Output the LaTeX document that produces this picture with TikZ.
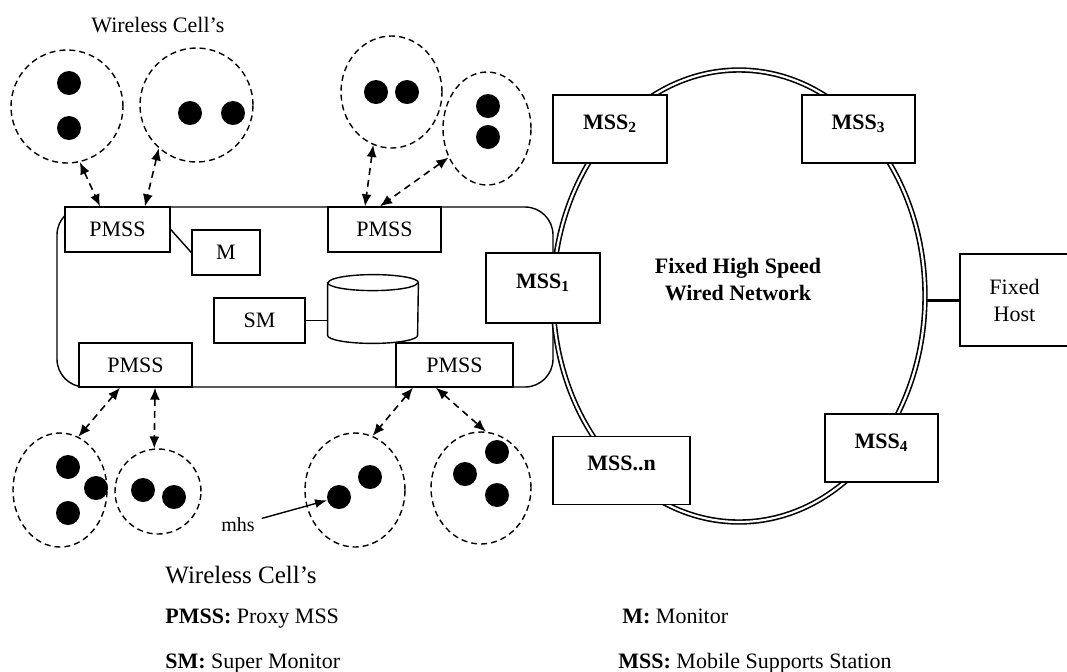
\documentclass[tikz,border=0pt]{standalone}
\usepackage{fontspec}
\setmainfont{Liberation Serif}
\usepackage{tikz}
\usetikzlibrary{shapes,arrows.meta,positioning,calc}

\begin{document}
\begin{tikzpicture}[
    x=0.5pt, y=-0.5pt,
    every node/.style={font=\fontsize{11}{13.5}\selectfont},
    pmss/.style={rectangle, draw, fill=white, line width=0.7pt, minimum height=22.5pt, inner sep=0pt},
    mss/.style={rectangle, draw, fill=white, line width=0.7pt, minimum height=34pt, inner sep=0pt, font=\fontsize{11}{13.5}\selectfont\bfseries, text height=8pt, text depth=8pt},
    cell/.style={ellipse, draw, dash pattern=on 3pt off 2pt, line width=0.7pt, inner sep=0pt},
    dot/.style={circle, fill, inner sep=0pt, minimum size=12pt},
    link/.style={<->, >={Latex[length=6pt,width=5pt]}, dash pattern=on 3.5pt off 2.5pt, line width=0.8pt},
    legend/.style={anchor=base west, inner sep=0pt}
]
    \useasboundingbox (0,0) rectangle (1067,671);

    % proxy domain
    \node[draw, line width=0.7pt, rounded corners=14pt, minimum width=248pt, minimum height=90pt, inner sep=0pt] (dom) at (305,297) {};

    % wired ring
    \node[ellipse, draw, double, double distance=1.1pt, line width=0.8pt, minimum width=186pt, minimum height=226pt, inner sep=0pt] (ring) at (739,296) {};
    \node[align=center, font=\fontsize{11}{13.5}\selectfont\bfseries] (net) at (738,280) {Fixed High Speed\\Wired Network};

    \node[pmss, minimum width=52.5pt] (p1) at (117.5,229.5) {PMSS};
    \node[pmss, minimum width=56.5pt] (p2) at (384.5,229.5) {PMSS};
    \node[pmss, minimum width=56.5pt, minimum height=22pt] (p3) at (135.5,365) {PMSS};
    \node[pmss, minimum width=58.5pt, minimum height=22pt] (p4) at (454.5,365) {PMSS};
    \node[pmss, minimum width=34pt] (m) at (226,252.5) {M};
    \node[pmss, minimum width=45.5pt] (sm) at (259.5,320.5) {SM};

    % database of the super monitor
    \node[minimum width=45pt, minimum height=34pt, inner sep=0pt] (db) at (373,309) {};
    \draw[line width=0.7pt, fill=white] ($(db.north west)+(0,8)$) -- ($(db.south west)+(0,-8)$)
        arc[start angle=180, end angle=360, x radius=22.5pt, y radius=4pt]
        -- ($(db.north east)+(0,8)$)
        arc[start angle=0, end angle=180, x radius=22.5pt, y radius=4pt] -- cycle;
    \draw[line width=0.7pt] ($(db.north west)+(0,8)$) arc[start angle=180, end angle=360, x radius=22.5pt, y radius=4pt];

    \draw[line width=0.7pt] (p1.east) -- (m.west);
    \draw[line width=0.7pt] (sm.east) -- (sm.east -| db.west);

    \node[mss, minimum width=57pt, minimum height=35pt] (mss1) at (543,288) {MSS\textsubscript{1}};
    \node[mss, minimum width=57pt] (mss2) at (610,129) {MSS\textsubscript{2}};
    \node[mss, minimum width=56.5pt] (mss3) at (858.5,129) {MSS\textsubscript{3}};
    \node[mss, minimum width=56.5pt] (mss4) at (881.5,448) {MSS\textsubscript{4}};
    \node[mss, minimum width=68.5pt] (mssn) at (621.5,470.5) {MSS..n};
    \node[pmss, minimum width=54.5pt, minimum height=46pt, align=center] (fh) at (1014.5,300) {Fixed\\Host};
    \draw[line width=1.5pt] (fh.west) -- (fh.west -| ring.east);

    % wireless cells
    \node[cell, minimum width=56pt, minimum height=56.5pt] (w1) at (67,106.5) {};
    \node[cell, minimum width=56.5pt, minimum height=57pt] (w2) at (196.5,105) {};
    \node[cell, minimum width=50.5pt, minimum height=56pt] (w3) at (391.5,92) {};
    \node[cell, minimum width=44pt, minimum height=56.5pt] (w4) at (487,128.5) {};
    \node[cell, minimum width=47pt, minimum height=57pt] (w5) at (60,490) {};
    \node[cell, minimum width=43pt, minimum height=42.5pt] (w6) at (158,491.5) {};
    \node[cell, minimum width=50pt, minimum height=57pt] (w7) at (355,490) {};
    \node[cell, minimum width=50pt, minimum height=56pt] (w8) at (481,488) {};

    \foreach \x/\y [count=\i] in {69/83, 69/128, 190/113, 233/113, 376/92, 407/92, 488/106, 488/137,
        68/467, 96/488, 68/513, 143/490, 174/497, 339/497, 370/477, 497/452, 465/474, 497/495}
        \node[dot] (d\i) at (\x,\y) {};

    \draw[link] (w1.-77) -- ($(p1.north)+(-17.5,0)$);
    \draw[link] (w2.-131) -- ($(p1.north)+(27.5,0)$);
    \draw[link] (w3.-109) -- ($(p2.north)+(-19.5,0)$);
    \draw[link] (w4.-143) -- ($(p2.north)+(-4.5,0)$);
    \draw[link] ($(p3.south)+(-15.5,0)$) -- (w5.71);
    \draw[link] ($(p3.south)+(19.5,0)$) -- (w6.95);
    \draw[link] ($(p4.south)+(-41.5,0)$) -- (w7.72);
    \draw[link] ($(p4.south)+(-18.5,0)$) -- (w8.85);

    \node[font=\fontsize{10}{12}\selectfont] (mhs) at (238,525) {mhs};
    \draw[->, >={Latex[length=6pt,width=4.5pt]}, line width=0.7pt] (mhs) -- (d14);

    % labels and key
    \node[legend] (t1) at (91,32) {Wireless Cell’s};
    \node[legend, font=\fontsize{12.5}{15}\selectfont] (t2) at (165,583) {Wireless Cell’s};
    \node[legend] (k1) at (165,623) {\textbf{PMSS:} Proxy MSS};
    \node[legend] (k2) at (622,623) {\textbf{M:} Monitor};
    \node[legend] (k3) at (165,668) {\textbf{SM:} Super Monitor};
    \node[legend] (k4) at (618,668) {\textbf{MSS:} Mobile Supports Station};
\end{tikzpicture}
\end{document}
